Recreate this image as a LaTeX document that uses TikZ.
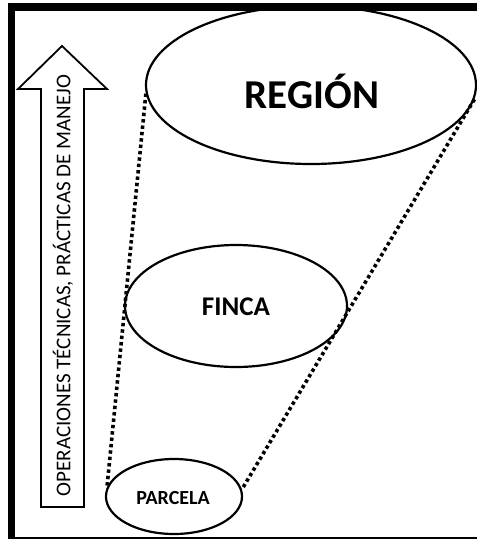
\documentclass[tikz,border=0pt]{standalone}
\usepackage{fontspec}
\setmainfont{Carlito}
\usetikzlibrary{shapes.geometric}
\tikzset{
  oval/.style={ellipse, draw=black, line width=2.2pt, inner sep=0pt, font=\bfseries},
  dotline/.style={line width=3.6pt, dash pattern=on 3.4pt off 3pt},
  frameline/.style={fill=black},
}
\begin{document}
\begin{tikzpicture}[x=1pt,y=-1pt]
\useasboundingbox (0,0) rectangle (477,539);
% frame
\fill[frameline] (8,3) rectangle (15,539);
\fill[frameline] (8,3) rectangle (477,11);
\fill[frameline] (8,536.5) rectangle (477,538.5);
% arrow
\draw[line width=1.8pt, line join=miter] (41,507) -- (84,507) -- (84,89) -- (107,89) -- (62,46) -- (18,89) -- (41,89) -- cycle;
\node[rotate=90, font=\fontsize{21}{21}\selectfont, inner sep=0pt] (lbl) at (63,285.5) {OPERACIONES TÉCNICAS, PRÁCTICAS DE MANEJO};
% ellipses
\node[oval, minimum width=330pt, minimum height=158pt] (region) at (311,85) {};
\node[font=\fontsize{41}{41}\selectfont\bfseries, inner sep=0pt] (regiont) at (312,91) {REGIÓN};
\node[oval, minimum width=222pt, minimum height=122pt] (finca) at (236,306) {};
\node[font=\fontsize{27}{27}\selectfont\bfseries, inner sep=0pt] (fincat) at (236,306.5) {FINCA};
\node[oval, minimum width=136pt, minimum height=75pt] (parcela) at (174,496.5) {};
\node[font=\fontsize{20}{20}\selectfont\bfseries, inner sep=0pt] (parcelat) at (173,498) {PARCELA};
% dotted connectors
\draw[dotline] (region.183) -- (parcela.172);
\draw[dotline] (region.-5) -- (parcela.6);
\end{tikzpicture}
\end{document}
